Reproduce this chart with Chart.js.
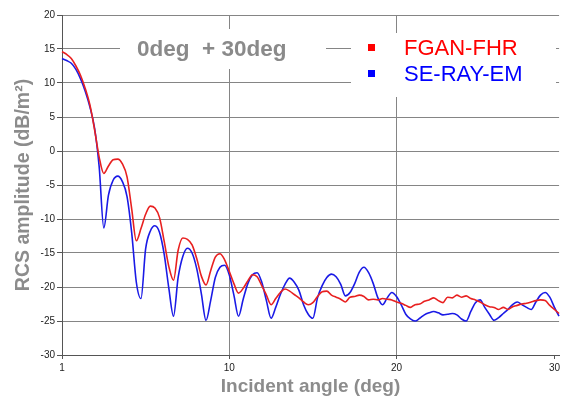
<!DOCTYPE html>
<html>
<head>
<meta charset="utf-8">
<script src="https://cdn.jsdelivr.net/npm/chart.js@4/dist/chart.umd.min.js"></script>
<style>
html,body{margin:0;padding:0;background:#fff;}
canvas{display:block;}
</style>
</head>
<body>
<canvas id="c" width="563" height="396"></canvas>
<script>
// Incident angles (deg) of the plotted samples (category axis, as in the source chart)
const angles = [
  1,1.25,1.5,1.75,2,2.25,2.5,2.75,3,3.25,3.5,3.75,4,4.25,4.5,4.75,5,5.25,5.5,5.75,
  6,6.25,6.5,6.75,7,7.25,7.5,7.75,8,8.25,8.5,8.75,9,9.25,9.5,9.75,10,
  10.28,10.56,10.83,11.11,11.39,11.67,11.94,12.22,12.5,12.78,13.06,13.33,13.61,13.89,14.17,14.44,14.72,15,
  15.28,15.56,15.83,16.11,16.39,16.67,16.94,17.22,17.5,17.78,18.06,18.33,18.61,18.89,19.17,19.44,19.72,20,
  20.29,20.59,20.88,21.18,21.47,21.76,22.06,22.35,22.65,22.94,23.24,23.53,23.82,24.12,24.41,24.71,25,
  25.29,25.59,25.88,26.18,26.47,26.76,27.06,27.35,27.65,27.94,28.24,28.53,28.82,29.12,29.41,29.71,30,
  30.29
];

// RCS amplitude (dB/m^2)
const fganFhr = [
  14.6,14.2,13.6,12.5,11.1,9.2,6.8,3.2,-0.9,-3.3,
  -2.2,-1.3,-1.2,-1.9,-3.8,-8.5,-13.2,-11.4,-9.3,-8.1,
  -8.4,-9.8,-13.3,-17.0,-19.0,-14.6,-12.8,-13.0,-13.8,-15.8,
  -18.4,-19.7,-17.6,-15.6,-15.1,-16.0,-17.7,-19.5,-20.9,-20.2,
  -19.1,-18.2,-18.5,-19.8,-21.2,-22.6,-21.7,-20.8,-20.3,-20.6,
  -21.1,-21.6,-22.2,-22.6,-22.3,-21.4,-20.7,-20.6,-21.2,-21.5,
  -21.8,-22.2,-21.5,-21.4,-21.2,-21.4,-21.9,-21.8,-21.9,-21.7,
  -21.8,-21.9,-22.2,-22.4,-22.7,-23.0,-22.6,-22.5,-22.1,-21.9,
  -21.6,-22.0,-22.3,-21.5,-21.6,-21.2,-21.5,-21.3,-21.7,-21.9,
  -22.2,-22.6,-22.9,-23.0,-23.3,-23.0,-23.3,-22.9,-22.7,-22.5,
  -22.4,-22.2,-22.0,-21.9,-22.0,-22.7,-23.3,-23.9
];
const seRayEm = [
  13.6,13.3,12.9,12.0,10.6,8.8,6.5,3.4,-2.3,-11.3,
  -6.5,-4.3,-3.7,-4.5,-6.7,-12.0,-19.3,-21.7,-14.4,-11.8,
  -11.0,-12.0,-15.2,-20.2,-24.3,-18.6,-15.5,-14.3,-15.0,-17.3,
  -21.0,-24.9,-22.0,-18.6,-17.1,-16.8,-18.2,-21.2,-24.3,-21.8,
  -19.5,-18.2,-17.9,-19.3,-22.0,-24.6,-23.0,-21.1,-19.6,-18.7,
  -19.3,-20.5,-22.6,-24.0,-24.6,-21.6,-19.8,-18.6,-18.1,-18.5,
  -19.6,-21.3,-20.8,-19.5,-17.8,-17.1,-17.9,-19.5,-21.6,-22.6,
  -21.6,-20.8,-21.4,-22.6,-24.0,-24.7,-25.0,-24.6,-24.1,-23.8,
  -23.6,-23.8,-24.1,-24.0,-23.9,-24.1,-24.7,-25.0,-23.6,-22.3,
  -21.9,-23.0,-24.0,-24.9,-24.5,-23.9,-23.3,-22.6,-22.2,-22.6,
  -23.0,-23.3,-22.2,-21.2,-20.8,-21.5,-23.0,-24.3
];

const xTickLabels = ['1','10','20','30'];
const xGridLabels = ['10','20'];
const seriesNames = ['FGAN-FHR','SE-RAY-EM'];
const titleText = '0deg  + 30deg';

const FONT = '"Liberation Sans", Arial, Helvetica, sans-serif';
const GRID = '#858585';

const overlay = {
  id: 'overlay',
  beforeDatasetsDraw(chart) {
    const ctx = chart.ctx;
    ctx.save();
    ctx.fillStyle = '#ffffff';
    ctx.fillRect(120, 29, 206, 40);
    ctx.fillRect(351, 33, 205, 64);
    ctx.textBaseline = 'middle';
    ctx.textAlign = 'left';
    ctx.font = 'bold 22.5px ' + FONT;
    ctx.fillStyle = '#8a8a8a';
    ctx.fillText(titleText, 137, 50);
    ctx.font = '22px ' + FONT;
    const legendColors = ['#ff0000', '#0000ff'];
    chart.data.datasets.forEach((ds, k) => {
      const y = 48 + k * 26;
      ctx.fillStyle = legendColors[k];
      ctx.fillRect(368, y - 4, 7, 7);
      ctx.fillText(ds.label, 404, y + 1);
    });
    ctx.restore();
  }
};

new Chart(document.getElementById('c'), {
  type: 'line',
  data: {
    labels: angles,
    datasets: [
      { label: seriesNames[0], data: fganFhr, borderColor: '#e82020', borderWidth: 1.6,
        pointRadius: 0, cubicInterpolationMode: 'monotone' },
      { label: seriesNames[1], data: seRayEm, borderColor: '#1a1ae6', borderWidth: 1.6,
        pointRadius: 0, cubicInterpolationMode: 'monotone' }
    ]
  },
  options: {
    responsive: false,
    animation: false,
    devicePixelRatio: 1,
    layout: { padding: { top: 15, right: 0, bottom: 0, left: 0 } },
    plugins: { legend: { display: false }, tooltip: { enabled: false }, title: { display: false } },
    scales: {
      x: {
        type: 'category',
        offset: false,
        afterFit: s => { s.height = 41; },
        border: { color: '#555', width: 1 },
        grid: {
          color: c => (c.tick && xGridLabels.includes(String(c.tick.label))) ? GRID : 'rgba(0,0,0,0)',
          tickColor: c => (c.tick && xTickLabels.includes(String(c.tick.label))) ? '#555' : 'rgba(0,0,0,0)',
          tickLength: 4,
          lineWidth: 1
        },
        ticks: {
          autoSkip: false,
          maxRotation: 0,
          padding: 3,
          color: '#222',
          font: { family: FONT, size: 10 },
          callback: function (v) {
            const lab = String(this.getLabelForValue(v));
            return xTickLabels.includes(lab) ? lab : null;
          }
        },
        title: {
          display: true,
          text: 'Incident angle (deg)',
          color: '#8c8c8c',
          font: { family: FONT, size: 19, weight: 'bold', lineHeight: 1 },
          padding: { top: 0, bottom: 0 }
        }
      },
      y: {
        min: -30,
        max: 20,
        afterFit: s => { s.width = 62; },
        border: { color: '#555', width: 1 },
        grid: { color: GRID, tickColor: '#555', tickLength: 5, lineWidth: 1 },
        ticks: {
          stepSize: 5,
          padding: 2,
          color: '#222',
          font: { family: FONT, size: 10 }
        },
        title: {
          display: true,
          text: 'RCS amplitude (dB/m²)',
          color: '#8c8c8c',
          font: { family: FONT, size: 19.5, weight: 'bold', lineHeight: 1.2 },
          padding: { top: 12, bottom: 0 }
        }
      }
    }
  },
  plugins: [overlay]
});
</script>
</body>
</html>
